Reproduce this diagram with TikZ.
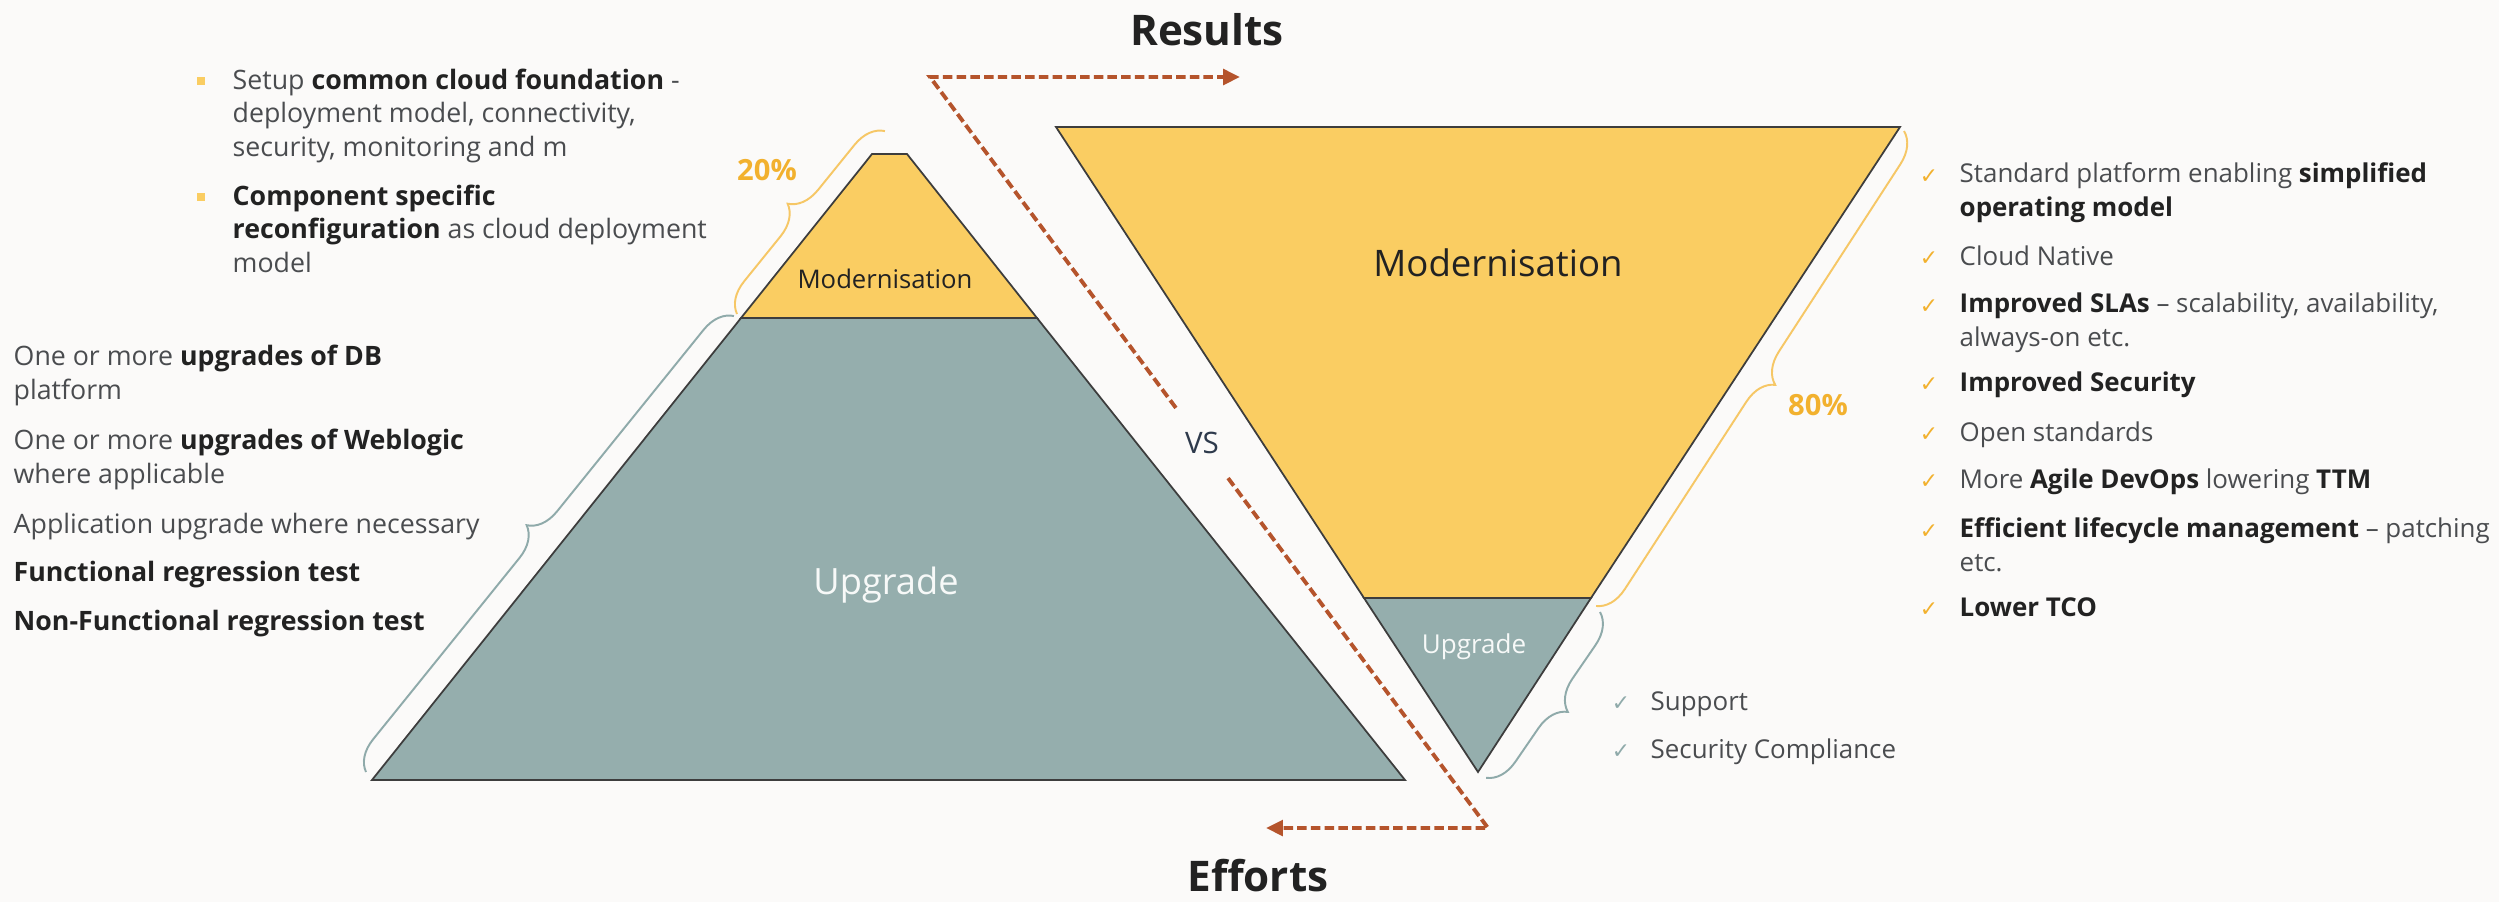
\documentclass[tikz,border=0pt]{standalone}
\usepackage{fontspec}
\setmainfont{Open Sans}
\newfontfamily\symfont{DejaVu Sans}
\usetikzlibrary{arrows.meta,decorations.pathreplacing}

\definecolor{paper}{HTML}{FBFAF9}
\definecolor{modyellow}{HTML}{FACD62}
\definecolor{upgteal}{HTML}{95AEAD}
\definecolor{edgegrey}{HTML}{3D3D3D}
\definecolor{pctorange}{HTML}{F2B12E}
\definecolor{braceorange}{HTML}{F6C766}
\definecolor{braceteal}{HTML}{8FAAAA}
\definecolor{rust}{HTML}{B5542C}
\definecolor{bodytext}{HTML}{4A4C4F}
\definecolor{headtext}{HTML}{222222}
\definecolor{vsslate}{HTML}{2E3A4C}

\newcommand\bfdark[1]{\textcolor{headtext}{\textbf{#1}}}

\tikzset{
  item/.style={anchor=base west, align=left, inner sep=0pt, text=bodytext,
    font=\fontsize{7.6}{9.4}\selectfont},
  ritem/.style={item, font=\fontsize{7.37}{9.4}\selectfont},
  tick/.style={anchor=base, inner sep=0pt, text=pctorange,
    font=\symfont\fontsize{6.2}{8}\selectfont},
  shapelabel/.style={inner sep=0pt},
  pct/.style={inner sep=0pt, text=pctorange, font=\bfseries\fontsize{8.3}{10}\selectfont},
  title/.style={inner sep=0pt, text=headtext, font=\bfseries\fontsize{12}{14}\selectfont},
  bracebase/.style={decorate, decoration={brace, amplitude=0.3cm}, line width=0.55pt},
  dashline/.style={draw=rust, line width=1.1pt, dash pattern=on 2.7pt off 1.2pt,
    -{Triangle[length=4.8pt, width=4.4pt]}}
}

\begin{document}
\begin{tikzpicture}[x=0.01cm, y=-0.01cm]

% Page
\fill[paper] (0,0) rectangle (2499,902);
\useasboundingbox (0,0) rectangle (2499,902);

% Left pyramid
\filldraw[fill=upgteal, draw=edgegrey, line width=0.5pt] (741,318) -- (1037,318) -- (1405,780) -- (372,780) -- cycle;
\filldraw[fill=modyellow, draw=edgegrey, line width=0.5pt] (872,154) -- (907,154) -- (1037,318) -- (741,318) -- cycle;

% Right pyramid (upside down)
\filldraw[fill=modyellow, draw=edgegrey, line width=0.5pt] (1056,127) -- (1900,127) -- (1591,598) -- (1364,598) -- cycle;
\filldraw[fill=upgteal, draw=edgegrey, line width=0.5pt] (1364,598) -- (1591,598) -- (1478,772) -- cycle;

% Labels inside the shapes
\node[shapelabel, text=headtext, font=\fontsize{7.3}{9}\selectfont] (modleft) at (885,279) {Modernisation};
\node[shapelabel, text=white!92!upgteal, font=\fontsize{10.3}{12}\selectfont] (upgleft) at (886,585) {Upgrade};
\node[shapelabel, text=headtext, font=\fontsize{10.4}{12}\selectfont] (modright) at (1498,263) {Modernisation};
\node[shapelabel, text=white!92!upgteal, font=\fontsize{7.4}{9}\selectfont] (upgright) at (1474,647) {Upgrade};

% Braces
\draw[bracebase, draw=braceteal] (366,772) -- (734,316);
\draw[bracebase, draw=braceorange] (737,314) -- (885,131);
\draw[bracebase, draw=braceorange] (1904,131) -- (1596,606);
\draw[bracebase, draw=braceteal] (1600,612) -- (1486,778);

% Percentages
\node[pct] (pcttwenty) at (767,170) {20\%};
\node[pct] (pcteighty) at (1818,405) {80\%};

% Titles
\node[title] (results) at (1207,30) {Results};
\node[title] (efforts) at (1258,876) {Efforts};

% VS and the dashed arrows
\node[circle, minimum size=0.86cm, inner sep=0pt, text=vsslate,
  font=\fontsize{8.4}{10}\selectfont] (vs) at (1202,443) {VS};
\coordinate (upturn) at (930,77);
\coordinate (upend) at (1240,77);
\coordinate (downturn) at (1488,828);
\coordinate (downend) at (1266,828);
\draw[dashline] (vs) -- (upturn) -- (upend);
\draw[dashline] (vs) -- (downturn) -- (downend);

% Modernisation effort (top left)
\fill[modyellow] (197,77) rectangle (205,85);
\node[item] (foundation) at (232,156) {Setup \bfdark{common cloud foundation} -\\deployment model, connectivity,\\security, monitoring and m};
\fill[modyellow] (197,193) rectangle (205,201);
\node[item] (reconfig) at (232,272) {\bfdark{Component specific}\\\bfdark{reconfiguration} as cloud deployment\\model};

% Upgrade effort (left)
\node[item] (dbup) at (13,399) {One or more \bfdark{upgrades of DB}\\platform};
\node[item] (wlup) at (13,483) {One or more \bfdark{upgrades of Weblogic}\\where applicable};
\node[item] (appup) at (13,533) {Application upgrade where necessary};
\node[item] (functest) at (13,581) {\bfdark{Functional regression test}};
\node[item] (nftest) at (13,630) {\bfdark{Non-Functional regression test}};

% Modernisation results (right)
\node[tick] (tickstd) at (1929,183) {✓};
\node[ritem] (stdplat) at (1959,216) {Standard platform enabling \bfdark{simplified}\\\bfdark{operating model}};
\node[tick] (ticknative) at (1929,265) {✓};
\node[ritem] (native) at (1959,265) {Cloud Native};
\node[tick] (ticksla) at (1929,313) {✓};
\node[ritem] (slas) at (1959,346) {\bfdark{Improved SLAs} – scalability, availability,\\always-on etc.};
\node[tick] (ticksec) at (1929,391) {✓};
\node[ritem] (security) at (1959,391) {\bfdark{Improved Security}};
\node[tick] (tickopen) at (1929,441) {✓};
\node[ritem] (openstd) at (1959,441) {Open standards};
\node[tick] (tickagile) at (1929,488) {✓};
\node[ritem] (agile) at (1959,488) {More \bfdark{Agile DevOps} lowering \bfdark{TTM}};
\node[tick] (ticklife) at (1929,538) {✓};
\node[ritem] (lifecycle) at (1959,571) {\bfdark{Efficient lifecycle management} – patching\\etc.};
\node[tick] (ticktco) at (1929,616) {✓};
\node[ritem] (tco) at (1959,616) {\bfdark{Lower TCO}};

% Upgrade results (bottom right)
\node[tick, text=braceteal] (ticksupport) at (1621,710) {✓};
\node[ritem] (support) at (1650,710) {Support};
\node[tick, text=braceteal] (tickcompl) at (1621,758) {✓};
\node[ritem] (compliance) at (1650,758) {Security Compliance};

\end{tikzpicture}
\end{document}
